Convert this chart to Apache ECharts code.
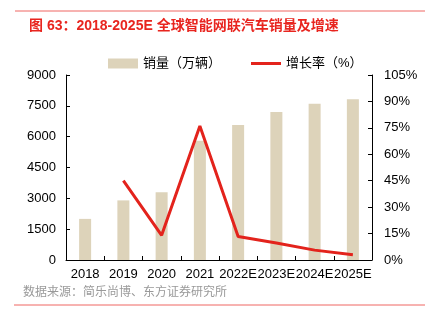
<!DOCTYPE html>
<html><head><meta charset="utf-8">
<script src="https://cdn.jsdelivr.net/npm/echarts@6/dist/echarts.min.js"></script>
<style>html,body{margin:0;padding:0;background:#fff}#c{width:425px;height:323px}</style>
</head><body><div id="c"></div>
<script>
var categories = ['2018','2019','2020','2021','2022E','2023E','2024E','2025E'];
var sales = [2000, 2900, 3300, 5800, 6570, 7200, 7600, 7820];
var growth = [null, 45, 14, 76, 13.3, 9.6, 5.6, 3.0];
var leftTicks = [0, 1500, 3000, 4500, 6000, 7500, 9000];
var rightTicks = [0, 15, 30, 45, 60, 75, 90, 105];

var font = 'Liberation Sans, Arial, Noto Sans CJK SC, sans-serif';
var chart = echarts.init(document.getElementById('c'), null, {renderer:'canvas'});
chart.setOption({
  animation: false,
  textStyle: {fontFamily: font},
  title: {
    text: '图 63：2018-2025E 全球智能网联汽车销量及增速',
    left: 24, top: 14,
    textStyle: {color: '#E8251F', fontSize: 14, fontWeight: 'bold', fontFamily: font}
  },
  graphic: [
    {type:'line', shape:{x1:15,y1:11,x2:425,y2:11}, style:{stroke:'#E8251F', lineWidth:1, opacity:0.7}},
    {type:'line', shape:{x1:14,y1:305,x2:425,y2:305}, style:{stroke:'#E8251F', lineWidth:1, opacity:0.7}},
    {type:'text', left: 23, top: 287, style:{text:'数据来源：简乐尚博、东方证券研究所', fill:'#999999', fontSize:12, fontFamily: font}}
  ],
  legend: {
    top: 52, left: 103, itemGap: 30, itemWidth: 30, itemHeight: 10,
    textStyle: {fontSize: 13, color: '#000', fontFamily: font},
    data: [
      {name:'销量（万辆）', icon:'rect'},
      {name:'增长率（%）', icon:'path://M0,0 L30,0 L30,3 L0,3 Z'}
    ]
  },
  grid: {left: 66, right: 53, top: 75, bottom: 63},
  xAxis: {
    type: 'category', data: categories,
    axisLine: {lineStyle: {color: '#000', width: 1}},
    axisTick: {show: true, inside: true, length: 4, alignWithLabel: false, lineStyle:{color:'#000'}},
    axisLabel: {color: '#000', fontSize: 13, interval: 0, margin: 8}
  },
  yAxis: [
    {type: 'value', min: 0, max: 9000, interval: 1500,
     axisLine: {show: true, lineStyle: {color: '#000'}},
     axisTick: {show: true, inside: true, length: 4, lineStyle:{color:'#000'}},
     splitLine: {show: false},
     axisLabel: {color: '#000', fontSize: 13, margin: 10, formatter: function(v){return String(v);}}},
    {type: 'value', min: 0, max: 105, interval: 15,
     axisLine: {show: true, lineStyle: {color: '#000'}},
     axisTick: {show: true, inside: true, length: 4, lineStyle:{color:'#000'}},
     splitLine: {show: false},
     axisLabel: {color: '#000', fontSize: 13, margin: 12, formatter: '{value}%'}}
  ],
  series: [
    {name: '销量（万辆）', type: 'bar', data: sales, barWidth: 12, itemStyle: {color: '#DDD3BA'}},
    {name: '增长率（%）', type: 'line', yAxisIndex: 1, data: growth, symbol: 'none',
     lineStyle: {color: '#E3231C', width: 3}, itemStyle: {color: '#E3231C'}}
  ]
});
</script></body></html>
